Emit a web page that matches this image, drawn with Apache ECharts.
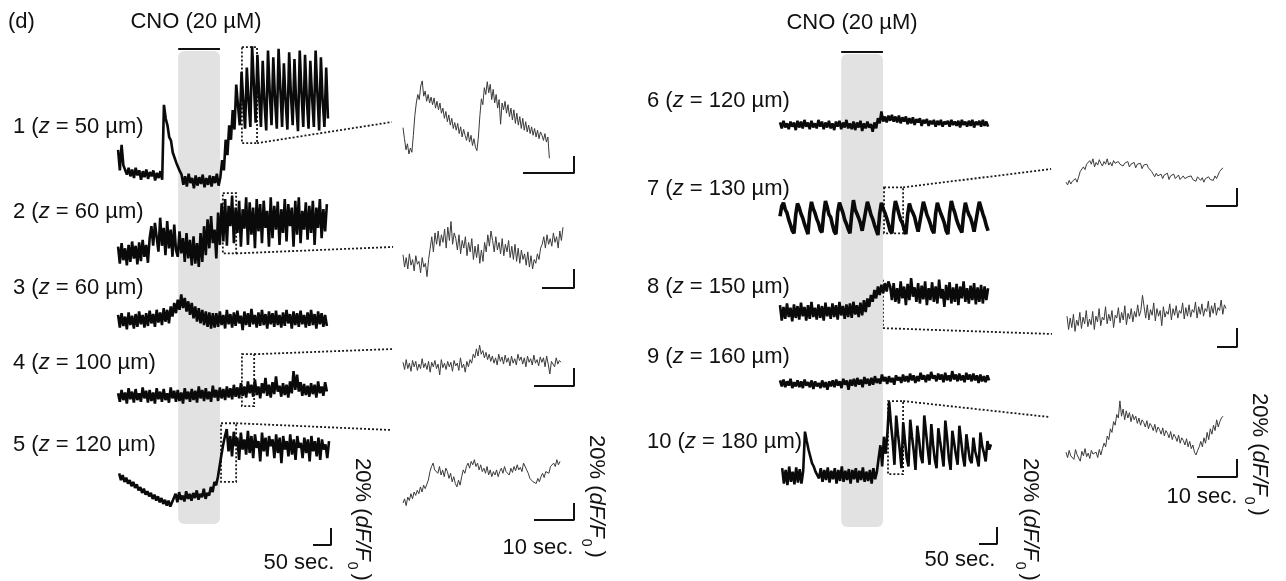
<!DOCTYPE html>
<html>
<head>
<meta charset="utf-8">
<script src="https://cdn.jsdelivr.net/npm/echarts@6/dist/echarts.min.js"></script>
<style>
  html, body { margin: 0; padding: 0; background: #fff; }
  #chart { width: 1286px; height: 581px; }
</style>
</head>
<body>
<div id="chart"></div>
<script>
// cells and their depth (µm)
const cellIds = [1, 2, 3, 4, 5, 6, 7, 8, 9, 10];
const depths = [50, 60, 60, 100, 120, 120, 130, 150, 160, 180];
// CNO application window (sec)
const cnoWindow = [170, 286];
// recording span of each trace (sec)
const recSpans = [[3, 586], [3, 583], [3, 583], [3, 583], [6, 589], [0, 578], [0, 578], [0, 578], [0, 581], [6, 586]];

// traces, % dF/F relative to each cell's resting level
const trace1 = [33,9,39,15, 14,4,12,2,10,0,12,3,9,-2,8,1,10,-1,7,2,9,-3,6,0,8,-2, 86,70,62,48,44,30,28,18,
  16,8,4,-8,2,-10,5,-6,0,-12,3,-9,1,-7,4,-11,0,-8,3,-10,2,-6,5,-9,1, 21,9,45,27,62,45,80,57,
  110,85,62,125,90,58,130,90,60,155,110,65,145,96,60,138,88,56,150,100,62,142,92,58,152,105,60,135,90,57,148,98,62,140,86,55,150,100,60,145,92,58,138,95,60,150,100,56,142,90,60,130,70];
const trace2 = [4,-16,8,-12,2,-18,6,-14,10,-10,5,-17,9,-13,12,-8,6,-15,14, 28,5,32,
  30,-2,38,5,26,-6,34,2,24,-8,30,0,-8,22,-4,14,-14,20,-10,12,-18,16,-16,8,
  -20,20,-14,28,-6,36,2,40,8,24,-10,44,6,
  55,10,60,5,52,28,64,8,50,20,58,4,48,25,62,6,56,18,50,2,60,22,54,8,58,26,46,4,62,14,52,24,57,6,48,20,60,10,54,28,50,4,58,18,62,8,46,24,56,12,52,20,58,6,50,26,60,14,48,22,54];
const trace3 = [6,-9,8,-7,4,-11,9,-6,5,-10,7,-8,10,-5,6,-9,8,-7,11,-4,7,-8,12,-3,9,-6,14,-2,12,-4,16,
  4,20,8,24,12,30,14,26,10,22,6,20,2,16,-2,14,-4,12,-6,10,-8,9,-10,8,-9,
  8,-8,10,-6,6,-10,12,-5,7,-9,9,-7,11,-4,5,-12,10,-6,8,-8,13,-5,6,-9,9,-7,12,-6,7,-10,10,-5,8,-8,11,-6,6,-9,9,-7,12,-4,7,-10,10,-6,8,-8,11,-5,6,-9,9,-7,12,-6,7,-10,10,-5,8,-8,6,-7];
const trace4 = [2,-8,6,-6,3,-10,8,-5,4,-9,7,-6,2,-8,9,-4,5,-9,6,-7,3,-10,8,-5,4,-8,7,-6,2,-9,9,-4,5,-8,6,-7,3,-10,8,-5,4,-8,7,-6,5,-9,10,-4,6,-7,8,-5,4,-8,11,-3,6,-7,9,-4,7,-6,10,-3,8,-5,12,-2,9,-4,14,-1,10,-3,16,2,
  12,-2,18,0,10,-4,14,2,20,-1,12,-3,15,1,22,4,11,-2,14,0,12,-3,16,2,28,6,24,4,15,-1,13,0,11,-2,14,1,12,-3,16,2,10,-1,15,4];
const trace5 = [-4,-12,-6,-14,-9,-16,-12,-19,-14,-21,-17,-24,-20,-27,-22,-29,-25,-31,-27,-34,-29,-36,-31,-38,-33,-40,-35,-42,-36,-43,-38,
  -36,-28,-38,-26,-35,-30,-37,-25,-34,-28,-36,-27,-33,-24,-35,-28,-32,-22,-34,-27,-30,-20,-26,-14,-18,
  -8,5,18,30,40,
  48,22,40,16,45,28,38,12,44,24,36,18,46,20,40,14,42,26,34,10,44,22,38,16,40,28,36,14,42,20,38,8,40,24,34,16,42,18,36,12,40,26,32,14,38,20,36,10,40,22,34,16,38,12,36,24,30,14,34];
const trace6 = [3,-4,5,-3,2,-5,4,-2,3,-6,5,-3,4,-4,6,-2,3,-5,5,-3,2,-4,6,-2,4,-5,3,-3,5,-4,2,-6,4,-2,5,-5,3,-3,6,-4,2,-5,4,-6,3,-3,5,-7,2,-4,4,-3,1,-8,3,-4,
  8,2,16,4,10,3,11,5,12,4,10,3,11,2,9,4,10,1,8,2,9,0,7,3,8,-1,6,2,7,-1,5,1,6,-2,5,0,6,-2,4,1,5,-2,6,0,4,-1,5,-3,6,0,4,-2,5,-1,6,-3,4,0,5,-2,6,-1,4,-2];
const trace7 = [2,14,18,10,6,-2,-8,-15, -18,4,17,12,5,0,-7,-13, -19,6,19,11,6,-1,-6,-14, -17,5,20,13,4,1,-8,-16,
  -19,7,18,12,6,-2,-7,-13, -18,4,21,10,5,0,-6,-15, -17,8,19,12,4,-1,-8,-14, -20,5,18,11,6,0,-7,-15,
  -18,6,20,13,5,-2,-6,-13, -19,4,17,10,6,1,-8,-16, -17,7,19,12,4,-1,-7,-14, -18,5,18,11,5,0,-6,-15,
  -19,6,20,12,6,-2,-8,-13, -17,4,18,10,4,0,-7,-16, -18,8,19,12,5,-1,-9,-15];
const trace8 = [8,-10,6,-8,10,-6,5,-11,9,-7,7,-9,11,-5,6,-10,8,-8,12,-6,5,-9,9,-7,7,-10,11,-5,6,-8,10,-6,8,-9,12,-4,7,-8,9,-6,10,-7,12,-3,8,-6,11,-4,14,
  0,16,6,20,12,26,16,30,20,32,22,34,24,36,
  30,14,34,12,28,10,36,16,30,8,33,14,40,18,29,12,34,10,31,15,36,8,28,14,35,12,30,10,38,16,27,6,32,14,35,10,29,12,33,8,30,16,36,12,28,10,31,14,34,9,29,12,32,10,30,14,28];
const trace9 = [3,-4,4,-5,2,-3,5,-6,1,-4,3,-5,2,-6,4,-3,1,-5,3,-7,2,-4,0,-6,3,-5,1,-8,2,-4,3,-5,4,-3,2,-6,5,-2,3,-8,
  4,-3,5,-4,6,-2,4,-5,7,-1,5,-3,6,-2,8,0,5,-1,10,2,7,-1,8,1,6,-2,9,3,7,0,10,2,8,1,11,3,9,0,8,2,
  12,4,9,1,10,3,13,5,9,2,11,4,10,1,12,3,9,2,14,4,10,2,11,3,9,1,12,4,10,2,11,3,9,0,10,2,8,1,9,3];
const trace10 = [8,-10,6,-12,10,-8,4,-11,9,-9,7,-10,5, 51, 40,30,22,14,10,4,6,
  -4,8,-8,6,-6,9,-9,5,-5,8,-10,6,-7,10,-8,5,-6,7,-10,6,-5,8,-9,5,-6,9,-8,4,-7,6,-10,8,-5,4,
  20,35,10,45,25,50,
  86,60,40,12,70,48,30,8,62,40,20,10,65,45,28,6,58,42,22,14,70,50,30,12,60,36,18,8,55,40,26,10,64,44,20,6,52,38,24,12,58,40,22,10,48,32,18,14,44,28,20,10,50,34,26,16,40,30,36];

// expanded views (insets), % dF/F
const inset1 = [-9,-22,-35,-28,-40,-33,-38,-18,5,20,30,24,40,46,28,34,22,30,20,27,18,26,14,22,12,20,8,14,2,10,-2,6,-6,2,-10,-3,-12,-4,-16,-8,
  -20,-11,-18,-24,-14,-26,-18,-30,-22,-32,-36,-20,5,25,18,38,30,45,32,42,24,36,20,30,14,24,-5,20,12,22,8,18,4,14,0,12,-4,8,-6,4,
  -10,2,-12,-2,-14,-6,-16,-8,-18,-10,-20,-12,-22,-14,-18,-24,-16,-26,-20,-45];
const inset2 = [-5,-18,-8,-20,-4,-16,-10,-22,-6,-15,-12,-24,-8,-18,-14, -28,-10,
  2,14,-2,18,6,20,4,16,8,22,2,24,10,30,6,18, 12,0,16,-4,10,2,14,-6,8,-2,12,-10,4,-8,6,-14,0,-12,
  8,-2,16,4,20, 10,-2,14,0,8,-4,12,-6,6,-2,10,-8,4,-10,6,-12,2,-14,0,-10,-4,-16,-2,-18,-6,-20,-10,
  -14,-4,-10,2,6, 14,2,16,6,12,4,18,8,14,2,20,10,24];
const inset4 = [3,-5,6,-4,2,-7,5,-2,4,-6,1,-4,7,-3,2,-5,4,-8,3,-2,5,-4,1,-11,6,-3,2,-5,4,-2,3,-7,5,-1,2,-6,8,-3,1,-8,4,-2,
  6,2,12,8,18,10,22,12,16,8,14,6,12,4,
  10,2,8,0,12,4,9,1,11,3,8,-1,10,2,7,0,12,5,9,1,8,-2,10,3,7,0,11,2,6,-1,9,3,8,-2,10,1,-10,4,6,-2,8,1,5,3];
const inset5 = [-33,-28,-36,-26,-30,-22,-28,-20,-24,-18,-22,-14,-20,-12,-16,-14, -6,4,10,14,6,
  8,2,10,0,6,-2,8,4,-4,2,-8,-2,-10, -14,-6,-12, -2,6,2,10,14,8,16,12,18,
  10,14,6,12,4,8,2,10,0,6,-2,4,0,6,-2, 4,8,2,10,4,6,0,8,3,10,5,12,6,9,4,14,
  15,6,2,-4,-2,-8, -6,-10,-4,-8,-2,2,-3,4,6,2,10,8,14,10,18,12,16];
const inset7 = [-8,-11,-6,-10,-7,-9,-4,-8, -2,4,2,9,6,12,
  10,16,12,18,9,14,11,17,13,10,15,12,18,11,14,10,16,13,11,15,12,14,10,13,11,15,9,12,10,14,8,12,10,13,7,11,9,12,8,10,
  4,6,-2,2,-1,
  -3,1,-4,0,-2,2,-5,-1,-3,1,-4,-2,0,-5,-3,-1,-4,-6,-2,-4,-1,-5,-3,-7,-2,-4,-6,-3,-8,-4,-6,-2,-5,-3,-6,-1,-4,
  0,4,6,8];
const inset8 = [4,-10,2,-8,6,-12,0,-6,8,-9,3,-4,10,-7,1,-5,9,-10,4,-2,
  12,-6,3,0,14,-4,6,-1,10,-8,5,2,13,-3,8,0,15,-5,7,1,
  12,-2,9,3,16,4,10,26,14,2,16,0,11,5,18,-1,12,4,10,-6,
  14,3,9,6,17,0,12,5,15,2,10,7,18,1,13,4,16,3,11,8,
  19,2,14,6,17,4,12,9,20,3,15,7,18,5,13,10,21,6,16,12];
const inset10 = [-8,-14,-6,-12,-10,-16,-5,-11,-9,-18,-7,-12,-4,-13,-9,-15,-6,-10,-12,-8,-14,-5,-11,
  -4,2,-2,10,6,18,14,26,22,34,30, 49,
  32,40,28,38,30,36,26,34,28,32,24,30,22,28,25,20,27,18,24,21,16,23,14,20,17,12,19,10,16,13,8,15,6,12,9,4,11,2,8,5,0,7,-2,4,
  -4,0,-8,-11,-6,-2, 4,-2,8,2,14,6,18,12,22,16,28,20,26,30,32];
// inset durations (sec)
const insetSecs = [28.7, 50, 39.5, 39.25, 50.6, 79.5, 39.25];
// expanded windows on the main traces: [t0, t1, low %, high %]
const zoomBoxes = [[347, 389, 41, 154], [294, 331, -4, 67], [347, 381, -13, 48], [289, 331, -14, 55],
  [289, 342, -18, 36], [233, 286, -19, 39], [300, 342, 1, 87]];

const FONT = 'Liberation Sans, Arial, sans-serif';
const INK = '#111';
const PCT = 0.85;  // px per % on main traces
const SEC = 0.36;  // px per sec on main traces

const panels = [
  { left: 117, top: 40, width: 216, height: 520, traces: [trace1, trace2, trace3, trace4, trace5], first: 0,
    bases: [178, 250, 320, 395, 470], gray: [51, 524], barY: 49, scale: [331, 545] },
  { left: 780, top: 40, width: 220, height: 520, traces: [trace6, trace7, trace8, trace9, trace10], first: 5,
    bases: [125, 218, 312, 383, 475], gray: [54, 527], barY: 52, scale: [997, 544] }
];
const traceWidths = [2.6, 2.6, 2.6, 2.6, 2.6, 2.6, 3.6, 2.6, 2.6, 2.6];
const vOf = (p, py) => (p.top + p.height - py) / PCT;

const insets = [
  { data: inset1, host: 0, row: 0, x0: 403, xr: 574, base: 120, pxs: 5.1, pxp: 0.85, barY: 173, corner: 'br', end: [-2.2, -2.4] },
  { data: inset2, host: 0, row: 1, x0: 403, xr: 574, base: 250, pxs: 3.2, pxp: 0.95, barY: 288, corner: 'br', end: [-3.1, 3.2] },
  { data: inset4, host: 0, row: 3, x0: 403, xr: 574, base: 365, pxs: 4, pxp: 0.9, barY: 386, corner: 'tr', end: [-2.25, 17.8] },
  { data: inset5, host: 0, row: 4, x0: 403, xr: 574, base: 475, pxs: 4, pxp: 0.85, barY: 520, corner: 'tr', end: [-3.25, 53] },
  { data: inset7, host: 1, row: 1, x0: 1066, xr: 1237, base: 175, pxs: 3.1, pxp: 0.9, barY: 206, corner: 'tr', end: [-4.8, 6.7] },
  { data: inset8, host: 1, row: 2, x0: 1067, xr: 1237, base: 320, pxs: 2, pxp: 0.95, barY: 347, corner: 'br', end: [-7.5, -14.7] },
  { data: inset10, host: 1, row: 4, x0: 1066, xr: 1237, base: 445, pxs: 4, pxp: 0.9, barY: 477, corner: 'tr', end: [-4, 31] }
];

const grid = [], xAxis = [], yAxis = [], series = [];

panels.forEach((p, gi) => {
  grid.push({ left: p.left, top: p.top, width: p.width, height: p.height, show: false });
  xAxis.push({ type: 'value', gridIndex: gi, min: 0, max: p.width / SEC, show: false });
  yAxis.push({ type: 'value', gridIndex: gi, min: 0, max: p.height / PCT, show: false });
  // CNO shading
  series.push({
    type: 'custom', xAxisIndex: gi, yAxisIndex: gi, silent: true,
    data: [[cnoWindow[0], cnoWindow[1], vOf(p, p.gray[1]), vOf(p, p.gray[0])]],
    renderItem: (params, api) => {
      const a = api.coord([api.value(0), api.value(3)]);
      const b = api.coord([api.value(1), api.value(2)]);
      return { type: 'rect', shape: { x: a[0], y: a[1], width: b[0] - a[0], height: b[1] - a[1], r: 6 },
        style: { fill: '#e2e2e2' } };
    }
  });
  series.push({
    type: 'line', xAxisIndex: gi, yAxisIndex: gi, symbol: 'none', silent: true, clip: false,
    data: [[cnoWindow[0], vOf(p, p.barY)], [cnoWindow[1], vOf(p, p.barY)]],
    lineStyle: { color: INK, width: 2 }
  });
  p.traces.forEach((arr, k) => {
    const off = vOf(p, p.bases[k]);
    const [s0, s1] = recSpans[p.first + k];
    series.push({
      type: 'line', xAxisIndex: gi, yAxisIndex: gi, symbol: 'none', silent: true, clip: false,
      data: arr.map((y, i) => [s0 + i * (s1 - s0) / (arr.length - 1), y + off]),
      lineStyle: { color: '#0a0a0a', width: traceWidths[p.first + k], join: 'bevel' }
    });
  });
  // 50 sec / 20 % scale bar
  const tEnd = (p.scale[0] - p.left) / SEC, yb = vOf(p, p.scale[1]);
  series.push({
    type: 'line', xAxisIndex: gi, yAxisIndex: gi, symbol: 'none', silent: true, clip: false,
    data: [[tEnd - 50, yb], [tEnd, yb], [tEnd, yb + 20]],
    lineStyle: { color: INK, width: 2 }
  });
});

insets.forEach((s, j) => {
  const gi = 2 + j;
  grid.push({ left: s.x0, top: s.base - 90, width: s.xr - s.x0, height: 160, show: false });
  xAxis.push({ type: 'value', gridIndex: gi, min: 0, max: (s.xr - s.x0) / s.pxs, show: false });
  yAxis.push({ type: 'value', gridIndex: gi, min: -70 / s.pxp, max: 90 / s.pxp, show: false });
  const dur = insetSecs[j];
  series.push({
    type: 'line', xAxisIndex: gi, yAxisIndex: gi, symbol: 'none', silent: true, clip: false,
    data: s.data.map((y, i) => [i * dur / (s.data.length - 1), y]),
    lineStyle: { color: '#3a3a3a', width: 1 }
  });
  const tEnd = (s.xr - s.x0) / s.pxs, yb = (s.base - s.barY) / s.pxp;
  series.push({
    type: 'line', xAxisIndex: gi, yAxisIndex: gi, symbol: 'none', silent: true, clip: false,
    data: [[tEnd - 10, yb], [tEnd, yb], [tEnd, yb + 20]],
    lineStyle: { color: INK, width: 2 }
  });
});

const chart = echarts.init(document.getElementById('chart'));
chart.setOption({ animation: false, grid, xAxis, yAxis, series });

// text
const txt = (x, y, text, extra) => Object.assign({
  type: 'text', x, y, silent: true,
  style: Object.assign({ text, fill: INK, fontSize: 22, fontFamily: FONT, verticalAlign: 'middle' }, extra || {})
});
const labelRich = {
  n: { fontSize: 22, fontFamily: FONT, fill: INK },
  i: { fontSize: 22, fontFamily: FONT, fill: INK, fontStyle: 'italic' }
};
const dfRich = {
  n: { fontSize: 22, fontFamily: FONT, fill: INK, lineHeight: 22, verticalAlign: 'top' },
  i: { fontSize: 22, fontFamily: FONT, fill: INK, lineHeight: 22, verticalAlign: 'top', fontStyle: 'italic' },
  s: { fontSize: 14, fontFamily: FONT, fill: INK, lineHeight: 28, verticalAlign: 'bottom', padding: [0, 4, 0, 1] }
};
const labelY = [127, 212, 288, 363, 445, 101, 189, 287, 357, 442];
const elements = [];
cellIds.forEach((c, k) => {
  elements.push(txt(k < 5 ? 13 : 647, labelY[k], `{n|${c} (}{i|z}{n| = ${depths[k]} µm)}`, { rich: labelRich }));
});
elements.push(txt(8, 22, '(d)'));
elements.push(txt(196, 22, 'CNO (20 µM)', { align: 'center' }));
elements.push(txt(852, 23, 'CNO (20 µM)', { align: 'center' }));
elements.push(txt(299, 563, '50 sec.', { align: 'center' }));
elements.push(txt(960, 560, '50 sec.', { align: 'center' }));
elements.push(txt(538, 548, '10 sec.', { align: 'center' }));
elements.push(txt(1202, 497, '10 sec.', { align: 'center' }));
[[373, 458], [607, 435], [1041, 458], [1270, 393]].forEach(([x, y]) => {
  elements.push({
    type: 'text', x, y, rotation: -Math.PI / 2, silent: true,
    style: { text: '{n|20% (}{i|dF/F}{s|0}{n|)}', rich: dfRich, align: 'left', verticalAlign: 'top', fill: INK }
  });
});

// dotted boxes on the main traces and their leader lines to the insets
const dotted = { stroke: '#1a1a1a', lineWidth: 1.8, lineDash: [2, 2], fill: null };
insets.forEach((s, j) => {
  const p = panels[s.host];
  const off = vOf(p, p.bases[s.row]);
  const [t0, t1, lo, hi] = zoomBoxes[j];
  const a = chart.convertToPixel({ gridIndex: s.host }, [t0, hi + off]);
  const b = chart.convertToPixel({ gridIndex: s.host }, [t1, lo + off]);
  elements.push({ type: 'rect', silent: true, shape: { x: a[0], y: a[1], width: b[0] - a[0], height: b[1] - a[1] },
    style: Object.assign({}, dotted) });
  const start = s.corner === 'br' ? [b[0], b[1]] : [b[0], a[1]];
  const end = chart.convertToPixel({ gridIndex: 2 + j }, s.end);
  elements.push({ type: 'line', silent: true, shape: { x1: start[0], y1: start[1], x2: end[0], y2: end[1] },
    style: Object.assign({}, dotted) });
});

chart.setOption({ graphic: { elements } });
</script>
</body>
</html>
